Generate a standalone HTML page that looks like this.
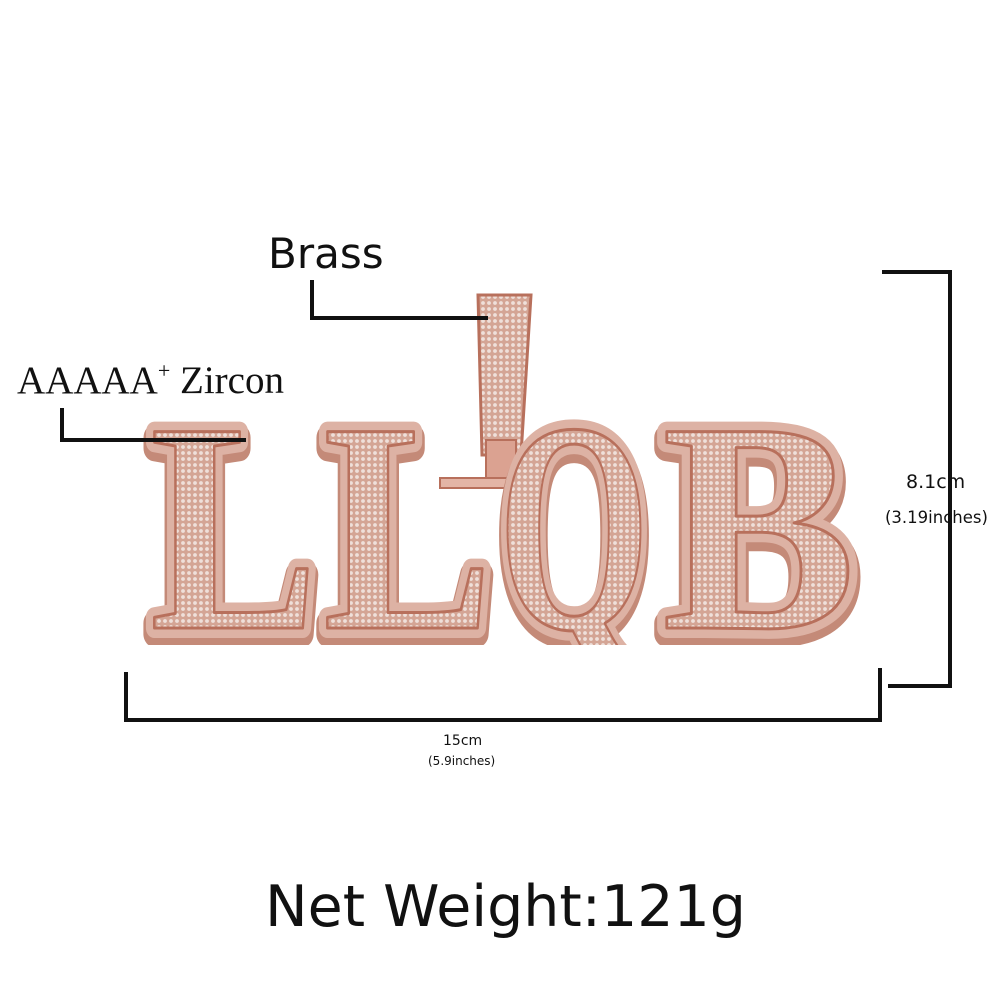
<!DOCTYPE html>
<html><head><meta charset="utf-8"><style>
html,body{margin:0;padding:0;background:#fff;}
body{width:1001px;height:1001px;position:relative;overflow:hidden;}
.t{position:absolute;white-space:nowrap;color:#111;}
.s{font-family:"DejaVu Sans","Liberation Sans",sans-serif;}
.b{position:absolute;background:#111;}
</style></head><body>
<svg width="1001" height="1001" style="position:absolute;left:0;top:0">
<defs>
<pattern id="dots" width="6" height="6" patternUnits="userSpaceOnUse">
<rect width="6" height="6" fill="#d4a595"/>
<circle cx="3" cy="3" r="1.9" fill="#efe0da"/>
</pattern>
<clipPath id="cp"><rect x="0" y="0" width="1001" height="645"/></clipPath>
</defs>
<!-- bail -->
<polygon points="478,295 531,295 521,455 482,455" fill="url(#dots)" stroke="#b8705c" stroke-width="3"/>
<rect x="486" y="440" width="30" height="40" fill="#dba291" stroke="#b8705c" stroke-width="2"/>
<rect x="440" y="478" width="70" height="10" fill="#e3b5a6" stroke="#b8705c" stroke-width="2"/>
<g clip-path="url(#cp)" font-family="Liberation Serif, serif" font-weight="bold" font-size="300">
<g fill="#c48a78" stroke="#c48a78" stroke-width="26" stroke-linejoin="round" transform="translate(0,6)">
<text x="150" y="628" textLength="168" lengthAdjust="spacingAndGlyphs">L</text>
<text x="323" y="628" textLength="170" lengthAdjust="spacingAndGlyphs">L</text>
<text x="498" y="628" textLength="152" lengthAdjust="spacingAndGlyphs">Q</text>
<text x="662" y="628" textLength="194" lengthAdjust="spacingAndGlyphs">B</text>
</g>
<g fill="url(#dots)" stroke="#ddb2a4" stroke-width="20" stroke-linejoin="round" paint-order="stroke">
<text x="150" y="628" textLength="168" lengthAdjust="spacingAndGlyphs">L</text>
<text x="323" y="628" textLength="170" lengthAdjust="spacingAndGlyphs">L</text>
<text x="498" y="628" textLength="152" lengthAdjust="spacingAndGlyphs">Q</text>
<text x="662" y="628" textLength="194" lengthAdjust="spacingAndGlyphs">B</text>
</g>
<g fill="url(#dots)" stroke="#b8705c" stroke-width="3" stroke-linejoin="round">
<text x="150" y="628" textLength="168" lengthAdjust="spacingAndGlyphs">L</text>
<text x="323" y="628" textLength="170" lengthAdjust="spacingAndGlyphs">L</text>
<text x="498" y="628" textLength="152" lengthAdjust="spacingAndGlyphs">Q</text>
<text x="662" y="628" textLength="194" lengthAdjust="spacingAndGlyphs">B</text>
</g>
</g>
</svg>

<div class="t s" style="left:268px;top:229px;font-size:42px;">Brass</div>
<div class="b" style="left:310px;top:280px;width:4px;height:40px;"></div>
<div class="b" style="left:310px;top:316px;width:178px;height:4px;"></div>

<div class="t" style="left:17px;top:358px;font-size:39px;font-family:'Liberation Serif',serif;">AAAAA<sup style="font-size:22px;vertical-align:15px;">+</sup> Zircon</div>
<div class="b" style="left:60px;top:408px;width:4px;height:34px;"></div>
<div class="b" style="left:60px;top:438px;width:186px;height:4px;"></div>

<div class="b" style="left:882px;top:270px;width:70px;height:4px;"></div>
<div class="b" style="left:948px;top:270px;width:4px;height:418px;"></div>
<div class="b" style="left:888px;top:684px;width:64px;height:4px;"></div>
<div class="t s" style="left:906px;top:471px;font-size:19px;">8.1cm</div>
<div class="t s" style="left:885px;top:508px;font-size:16.5px;">(3.19inches)</div>

<div class="b" style="left:124px;top:672px;width:4px;height:50px;"></div>
<div class="b" style="left:124px;top:718px;width:758px;height:4px;"></div>
<div class="b" style="left:878px;top:668px;width:4px;height:54px;"></div>
<div class="t s" style="left:443px;top:733px;font-size:14px;">15cm</div>
<div class="t s" style="left:428px;top:754px;font-size:12px;">(5.9inches)</div>

<div class="t s" style="left:265px;top:874px;font-size:57px;">Net Weight:121g</div>
</body></html>
